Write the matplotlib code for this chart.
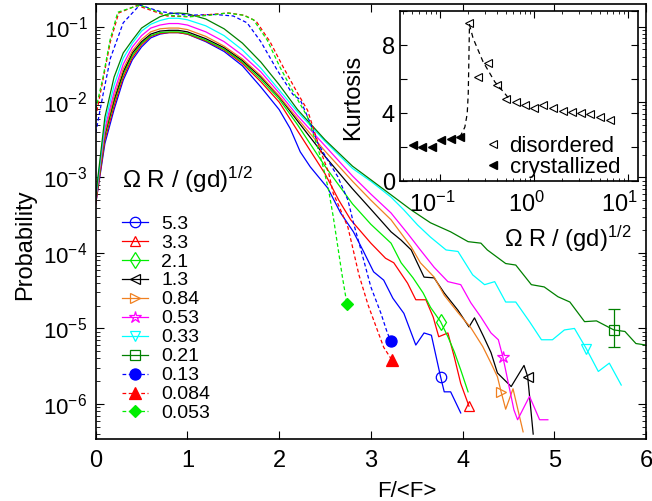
import numpy as np
import matplotlib
matplotlib.use("Agg")
import matplotlib.pyplot as plt
import matplotlib.transforms as mtransforms

plt.rcParams["font.family"] = ["Liberation Sans", "DejaVu Sans"]
plt.rcParams["mathtext.fontset"] = "custom"
plt.rcParams["mathtext.rm"] = "Liberation Sans"
plt.rcParams["mathtext.default"] = "regular"

# ---------------- force distributions: F/<F> and log10(probability) ----------------
rise_x = [0, 0.1, 0.2, 0.3, 0.4, 0.5, 0.6, 0.7, 0.8, 0.9, 1.0, 1.2, 1.4, 1.6, 1.8, 2.0]

f_53 = rise_x + [2.12, 2.23, 2.34, 2.53, 2.67, 2.81, 2.92, 3.03, 3.14, 3.24, 3.36, 3.49,
                 3.58, 3.66, 3.76, 3.80, 3.87, 3.98]
lp_53 = [-3.35, -2.55, -2.10, -1.71, -1.44, -1.27, -1.15, -1.10, -1.08, -1.08, -1.10, -1.20,
         -1.33, -1.52, -1.80, -2.10, -2.35, -2.66, -2.86, -3.14, -3.47, -3.72, -3.98, -4.25,
         -4.36, -4.60, -4.80, -5.22, -5.06, -5.09, -5.64, -5.84, -5.84, -6.12]

f_33 = rise_x + [2.2, 2.5, 2.65, 2.78, 3.0, 3.16, 3.25, 3.40, 3.49, 3.60, 3.68, 3.74, 3.84,
                 3.91, 3.98, 4.07]
lp_33 = [-3.35, -2.50, -2.05, -1.67, -1.41, -1.24, -1.13, -1.09, -1.08, -1.08, -1.10, -1.19,
         -1.31, -1.49, -1.73, -2.00, -2.38, -2.95, -3.30, -3.56, -3.87, -4.07, -4.13, -4.40,
         -4.62, -4.62, -4.85, -5.11, -5.06, -5.38, -5.73, -6.03]

f_21 = rise_x + [2.2, 2.5, 2.8, 3.0, 3.22, 3.33, 3.46, 3.57, 3.65, 3.76, 3.84, 3.91, 3.98, 4.06]
lp_21 = [-3.30, -2.45, -2.00, -1.63, -1.38, -1.22, -1.12, -1.08, -1.07, -1.07, -1.09, -1.18,
         -1.30, -1.47, -1.70, -1.96, -2.30, -2.85, -3.35, -3.62, -3.87, -4.13, -4.33, -4.53,
         -4.72, -4.91, -5.11, -5.31, -5.55, -5.84]

f_13 = rise_x + [2.2, 2.5, 2.8, 3.0, 3.22, 3.33, 3.44, 3.49, 3.58, 3.69, 3.80, 3.95, 4.07,
                 4.13, 4.23, 4.31, 4.38, 4.53, 4.67, 4.71, 4.77]
lp_13 = [-3.30, -2.42, -1.97, -1.60, -1.35, -1.20, -1.10, -1.06, -1.05, -1.05, -1.07, -1.16,
         -1.28, -1.45, -1.67, -1.93, -2.25, -2.72, -3.15, -3.42, -3.72, -3.83, -3.96, -4.09,
         -4.32, -4.33, -4.53, -4.76, -4.98, -4.86, -5.11, -5.32, -5.59, -5.77, -5.49, -5.64,
         -6.40]

f_084 = rise_x + [2.2, 2.5, 2.8, 3.0, 3.22, 3.33, 3.44, 3.54, 3.69, 3.80, 3.95, 4.09, 4.22,
                  4.31, 4.38, 4.42, 4.47, 4.55, 4.66]
lp_084 = [-3.30, -2.40, -1.93, -1.56, -1.32, -1.17, -1.07, -1.03, -1.02, -1.02, -1.04, -1.13,
          -1.26, -1.43, -1.65, -1.92, -2.22, -2.65, -3.05, -3.30, -3.56, -3.74, -3.92, -4.13,
          -4.32, -4.56, -4.79, -4.99, -5.24, -5.46, -5.64, -5.84, -6.07, -5.80, -6.37]

f_053 = rise_x + [2.2, 2.5, 2.8, 3.0, 3.22, 3.40, 3.54, 3.69, 3.84, 3.98, 4.09, 4.20, 4.31,
                  4.39, 4.44, 4.50, 4.56, 4.60, 4.73, 4.84, 4.93]
lp_053 = [-3.28, -2.35, -1.87, -1.50, -1.27, -1.12, -1.02, -0.98, -0.96, -0.96, -0.98, -1.07,
          -1.20, -1.38, -1.60, -1.88, -2.18, -2.58, -2.98, -3.22, -3.47, -3.74, -3.96, -4.19,
          -4.38, -4.42, -4.66, -4.85, -5.06, -5.15, -5.38, -5.73, -6.08, -6.21, -5.90, -6.21,
          -6.21]

f_033 = rise_x + [2.2, 2.5, 2.8, 3.0, 3.22, 3.36, 3.51, 3.65, 3.82, 3.95, 4.11, 4.24, 4.35,
                  4.47, 4.58, 4.73, 4.86, 4.98, 5.11, 5.22, 5.35, 5.48, 5.60, 5.73]
lp_033 = [-3.27, -2.28, -1.78, -1.42, -1.22, -1.06, -0.97, -0.92, -0.89, -0.89, -0.91, -0.99,
          -1.12, -1.31, -1.55, -1.84, -2.13, -2.52, -2.88, -3.05, -3.26, -3.43, -3.63, -3.79,
          -3.96, -3.98, -4.29, -4.42, -4.38, -4.65, -4.65, -4.91, -5.15, -5.15, -5.02, -5.00,
          -5.27, -5.57, -5.46, -5.75]

f_021 = rise_x + [2.2, 2.5, 2.8, 3.0, 3.22, 3.44, 3.65, 3.87, 4.06, 4.20, 4.27, 4.47, 4.58,
                  4.75, 4.89, 5.04, 5.17, 5.33, 5.46, 5.65, 5.77, 5.89, 6.0]
lp_021 = [-3.25, -2.20, -1.67, -1.35, -1.18, -1.02, -0.94, -0.87, -0.83, -0.82, -0.83, -0.90,
          -1.03, -1.22, -1.47, -1.77, -2.10, -2.50, -2.85, -3.03, -3.23, -3.43, -3.60, -3.72,
          -3.85, -3.87, -3.96, -4.14, -4.16, -4.42, -4.45, -4.58, -4.65, -4.91, -4.90, -5.02,
          -5.04, -5.20, -5.22]

f_013 = [0, 0.08, 0.16, 0.3, 0.48, 0.7, 1.0, 1.3, 1.5, 1.65, 1.8, 1.98, 2.15, 2.23, 2.34,
         2.42, 2.53, 2.64, 2.75, 2.81, 2.89, 3.00, 3.11, 3.18, 3.22]
lp_013 = [-2.41, -1.90, -1.42, -0.95, -0.715, -0.80, -0.85, -0.84, -0.86, -0.95, -1.20,
          -1.58, -1.90, -1.97, -2.28, -2.54, -2.77, -2.99, -3.30, -3.60, -3.95, -4.45, -4.80,
          -5.06, -5.17]

f_0084 = [0, 0.08, 0.16, 0.25, 0.45, 0.78, 1.0, 1.25, 1.45, 1.62, 1.75, 1.9, 2.05, 2.2,
          2.31, 2.45, 2.54, 2.59, 2.67, 2.75, 2.80, 2.87, 2.97, 3.07, 3.14, 3.23]
lp_0084 = [-2.20, -1.70, -1.20, -0.82, -0.72, -0.86, -0.87, -0.84, -0.82, -0.85, -0.93,
           -1.20, -1.55, -1.88, -2.11, -2.64, -2.94, -3.21, -3.43, -3.66, -3.92, -4.29,
           -4.69, -5.02, -5.25, -5.42]

f_0053 = [0, 0.08, 0.156, 0.24, 0.48, 0.78, 1.03, 1.25, 1.43, 1.61, 1.72, 1.87, 2.01, 2.16,
          2.31, 2.42, 2.48, 2.54, 2.59, 2.64, 2.69, 2.74]
lp_0053 = [-2.10, -1.67, -1.18, -0.81, -0.715, -0.85, -0.87, -0.85, -0.82, -0.85, -0.91,
           -1.18, -1.54, -1.88, -2.20, -2.60, -2.86, -3.17, -3.52, -3.92, -4.32, -4.68]

legend_values = ["5.3", "3.3", "2.1", "1.3", "0.84", "0.53", "0.33", "0.21", "0.13",
                 "0.084", "0.053"]

# error bar on the 0.21 curve (F/<F>, probability, lower, upper)
err_f, err_p, err_lo, err_hi = 5.65, 9.5e-6, 5.6e-6, 1.8e-5

# ---------------- kurtosis inset ----------------
omega_cryst = [0.051, 0.064, 0.081, 0.102, 0.129, 0.162]
kurt_cryst = [2.13, 2.03, 1.99, 2.43, 2.46, 2.58]
omega_dis = [0.205, 0.255, 0.321, 0.401, 0.504, 0.644, 0.802, 1.0, 1.26, 1.60, 2.02, 2.52,
             3.16, 3.94, 5.04, 6.44]
kurt_dis = [9.28, 6.13, 6.96, 5.64, 4.85, 4.65, 4.46, 4.32, 4.46, 4.30, 4.12, 4.06, 4.0,
            3.92, 3.76, 3.61]
guide_omega = [0.162, 0.183, 0.194, 0.199, 0.202, 0.205, 0.224, 0.253, 0.286, 0.382, 0.488,
               0.53]
guide_kurt = [2.58, 3.17, 3.96, 5.15, 7.12, 9.2, 8.40, 7.71, 7.02, 5.83, 5.15, 4.9]

# ---------------- styles ----------------
DASH = (0, (3, 2))
series = [
    (f_53, lp_53, "#0000ff", "-", "o", False, 30),
    (f_33, lp_33, "#ff0000", "-", "^", False, len(f_33) - 1),
    (f_21, lp_21, "#00ee00", "-", "d", False, 25),
    (f_13, lp_13, "#000000", "-", "<", False, 35),
    (f_084, lp_084, "#f08020", "-", ">", False, 31),
    (f_053, lp_053, "#ff00ff", "-", "*", False, 30),
    (f_033, lp_033, "#00ffff", "-", "v", False, 36),
    (f_021, lp_021, "#008000", "-", "s", False, 35),
    (f_013, lp_013, "#0000ff", DASH, "o", True, len(f_013) - 1),
    (f_0084, lp_0084, "#ff0000", DASH, "^", True, len(f_0084) - 1),
    (f_0053, lp_0053, "#00ee00", DASH, "D", True, len(f_0053) - 1),
]

fig = plt.figure(figsize=(6.52, 5.01), dpi=100)
ax = fig.add_axes([0.1468, 0.1238, 0.8440, 0.8682])

handles = []
for (fx, lp, col, ls, mk, filled, mi), lab in zip(series, legend_values):
    if filled:
        ms = 8 if mk != "D" else 6.5
    else:
        ms = {"*": 9, "d": 8}.get(mk, 7.5)
    line, = ax.plot(fx, 10.0 ** np.asarray(lp), color=col, linestyle=ls, lw=0.9,
                    marker=mk, markevery=[mi], markersize=ms,
                    markerfacecolor=col if filled else "none",
                    markeredgecolor=col, markeredgewidth=0.9, label=lab)
    handles.append(line)

ax.errorbar([err_f], [err_p], yerr=[[err_p - err_lo], [err_hi - err_p]], fmt="none",
            ecolor="#008000", elinewidth=0.9, capsize=4, capthick=0.9)

ax.set_yscale("log")
ax.set_xlim(0, 6)
ax.set_ylim(3.43e-7, 0.199)
ax.set_xticks([0, 1, 2, 3, 4, 5, 6])
ax.tick_params(axis="both", which="both", direction="in", top=True, right=True)
ax.tick_params(axis="x", labelsize=17, length=6, pad=8)
ax.tick_params(axis="y", which="major", labelsize=16, length=6, pad=6)
ax.tick_params(axis="y", which="minor", length=3)
for sp in ax.spines.values():
    sp.set_linewidth(1.2)

ax.set_xlabel("F/<F>", fontsize=16)
ax.xaxis.set_label_coords(0.565, -0.097)
ax.set_ylabel("Probability", fontsize=17)
ax.yaxis.set_label_coords(-0.108, 0.446)

ax.text(0.048, 0.577, "\u03a9 R / (gd)$^{1/2}$", transform=ax.transAxes,
        fontsize=17.5, ha="left", va="baseline")
ax.legend(handles=handles, loc="upper left", bbox_to_anchor=(0.048, 0.515),
          frameon=False, fontsize=14, labelspacing=0.07, handlelength=1.35,
          handletextpad=0.67, borderaxespad=0, borderpad=0)

# ---------------- inset ----------------
ins = fig.add_axes([0.6130, 0.6387, 0.3655, 0.3393])
ins.plot(guide_omega, guide_kurt, color="black", lw=0.9, linestyle=(0, (4, 3)))
ins.plot(omega_dis, kurt_dis, linestyle="none", marker="<", markersize=6,
         markerfacecolor="none", markeredgecolor="black", markeredgewidth=0.8,
         label="disordered")
ins.plot(omega_cryst, kurt_cryst, linestyle="none", marker="<", markersize=6,
         markerfacecolor="black", markeredgecolor="black", label="crystallized")
ins.set_xscale("log")
ins.set_xlim(0.037, 12.8)
ins.set_ylim(0, 10)
ins.set_yticks([0, 2, 4, 6, 8, 10])
ins.set_yticklabels(["0", "", "4", "", "8", ""])
ins.tick_params(axis="both", which="both", direction="in", top=True, right=True)
ins.tick_params(axis="both", which="major", labelsize=17, length=5)
ins.tick_params(axis="x", which="major", pad=8)
ins.tick_params(axis="x", which="minor", length=2.5)
for sp in ins.spines.values():
    sp.set_linewidth(1.2)
ins.set_ylabel("Kurtosis", fontsize=17)
ins.yaxis.set_label_coords(-0.15, 0.494)
ins.set_xlabel("\u03a9 R / (gd)$^{1/2}$", fontsize=17)
ins.xaxis.set_label_coords(0.706, -0.25)
ins.legend(loc="lower right", bbox_to_anchor=(0.925, 0.02), frameon=False, fontsize=16,
           labelspacing=0.0, handlelength=0.6, handletextpad=0.45, borderaxespad=0,
           borderpad=0)

# inset decade labels sit slightly left of their ticks
shift = mtransforms.ScaledTranslation(-8 / 100, 0, fig.dpi_scale_trans)
for lbl in ins.get_xticklabels():
    lbl.set_transform(lbl.get_transform() + shift)

fig.savefig("out.png", dpi=100)
